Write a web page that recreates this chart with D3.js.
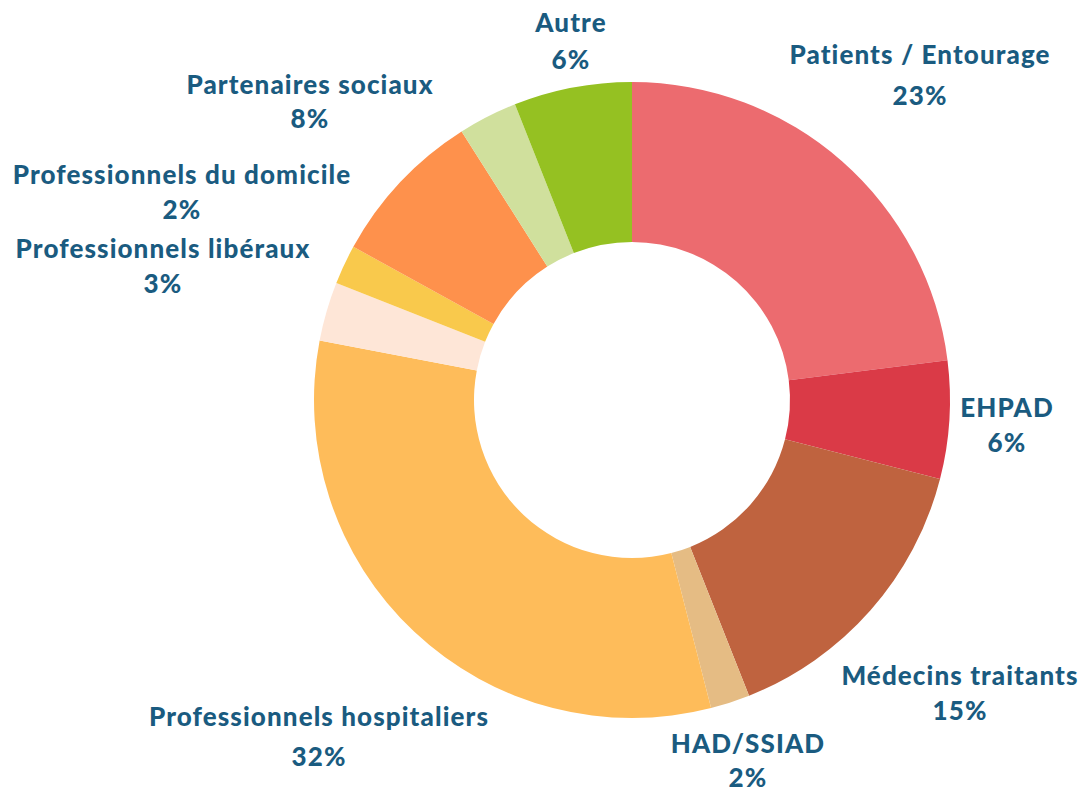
<!DOCTYPE html>
<html>
<head>
<meta charset="utf-8">
<script src="https://cdn.jsdelivr.net/npm/d3@7"></script>
<style>
  body { margin: 0; background: #fff; }
  text { font-family: Lato, "Open Sans", sans-serif; font-weight: 900; fill: #1a5b80; letter-spacing: 1.1px; }
</style>
</head>
<body>
<script>
// slices, clockwise from 12 o'clock
var categories = ["Patients / Entourage", "EHPAD", "Médecins traitants", "HAD/SSIAD",
    "Professionnels hospitaliers", "Professionnels libéraux", "Professionnels du domicile",
    "Partenaires sociaux", "", "Autre"];
var values = [23, 6, 15, 2, 32, 3, 2, 8, 3, 6];
var colors = ["#ec6b6f", "#da3a47", "#bf633f", "#e5bc84", "#febc5a",
    "#fee6d7", "#f9c94c", "#fe914c", "#d0e09d", "#95c122"];

// where each label sits (centre x, first line baseline)
var labelPos = [[920, 64], [1007, 417], [960, 685], [748, 753], [319, 726],
    [163, 258], [182, 184], [310, 94], null, [571, 32]];
var gaps = [41, 35, 35, 34, 40, 35, 35, 34, 0, 37];

var width = 1084, height = 792;
var cx = 632, cy = 400;

var svg = d3.select("body")
    .append("svg")
    .attr("width", width)
    .attr("height", height);

var pie = d3.pie()
    .sort(null)
    .value(function(d){ return d; });

var arc = d3.arc()
    .innerRadius(158)
    .outerRadius(318);

var color = d3.scaleOrdinal()
    .domain(d3.range(categories.length))
    .range(colors);

var g = svg.append("g")
    .attr("transform", "translate(" + cx + "," + cy + ")");

g.selectAll(".slice")
    .data(pie(values))
    .enter().append("path")
    .attr("class", "slice")
    .attr("d", arc)
    .attr("fill", function(d, i){ return color(i); });

var labels = svg.selectAll(".label")
    .data(categories.map(function(c, i){ return {name: c, value: values[i], i: i}; })
        .filter(function(d){ return d.name !== ""; }))
    .enter().append("text")
    .attr("class", "label")
    .attr("text-anchor", "middle")
    .style("font-size", "26px");

labels.append("tspan")
    .attr("x", function(d){ return labelPos[d.i][0]; })
    .attr("y", function(d){ return labelPos[d.i][1]; })
    .text(function(d){ return d.name; });

labels.append("tspan")
    .attr("x", function(d){ return labelPos[d.i][0]; })
    .attr("y", function(d){ return labelPos[d.i][1] + gaps[d.i]; })
    .text(function(d){ return d.value + "%"; });
</script>
</body>
</html>
